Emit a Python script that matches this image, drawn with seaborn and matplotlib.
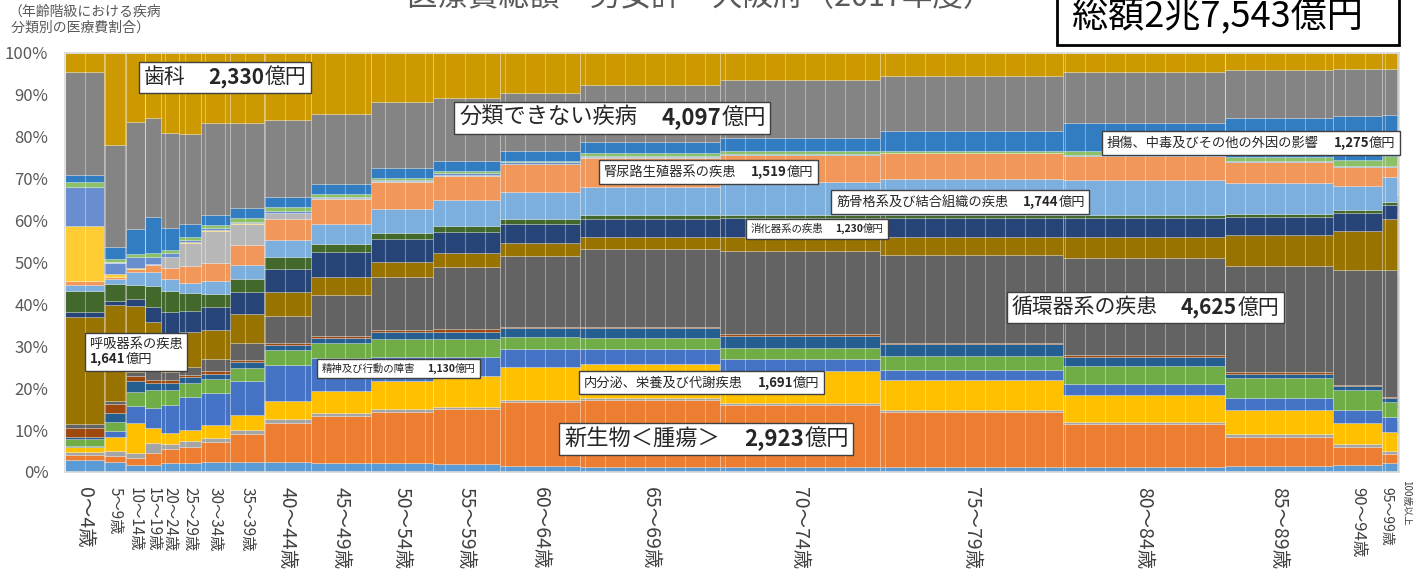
import numpy as np
import pandas as pd
import seaborn as sns
import matplotlib.pyplot as plt
from matplotlib.patches import Rectangle
from matplotlib.ticker import MultipleLocator, FuncFormatter
from matplotlib.transforms import ScaledTranslation
from matplotlib.offsetbox import TextArea, HPacker, VPacker, AnnotationBbox

# age groups and their total medical cost (億円) -> bar widths
age_groups = ["0〜4歳", "5〜9歳", "10〜14歳", "15〜19歳", "20〜24歳", "25〜29歳",
              "30〜34歳", "35〜39歳", "40〜44歳", "45〜49歳", "50〜54歳",
              "55〜59歳", "60〜64歳", "65〜69歳", "70〜74歳", "75〜79歳",
              "80〜84歳", "85〜89歳", "90〜94歳", "95〜99歳", "100歳以上"]
age_cost = [805, 454, 392, 330, 372, 454, 599, 702, 971, 1239, 1280, 1384,
            1652, 2891, 3304, 3779, 3345, 2230, 1012, 310, 41]

# share (%) of each disease class within an age group, bottom to top
kansen = [2.9, 2.5, 1.7, 1.7, 2.2, 2.1, 2.5, 2.3, 2.3, 2.1, 2.1, 1.8, 1.5, 1.3, 1.3, 1.3, 1.3, 1.4, 1.7, 2.1, 2.5]
shinsei = [1.2, 1.4, 1.6, 2.9, 3.4, 3.8, 4.7, 6.8, 9.4, 11.3, 12.3, 13.2, 15.3, 16.0, 14.8, 13.1, 10.1, 7.0, 4.3, 2.1, 1.5]
ketsueki = [0.6, 1.0, 1.3, 2.4, 1.2, 1.5, 0.8, 1.0, 0.9, 0.6, 0.6, 0.6, 0.5, 0.4, 0.4, 0.4, 0.5, 0.6, 0.8, 0.7, 0.8]
naibunpi = [1.2, 3.4, 7.0, 3.4, 2.4, 2.6, 3.2, 3.6, 4.4, 5.4, 6.6, 7.2, 7.7, 8.0, 7.6, 7.2, 6.5, 5.8, 4.8, 4.7, 4.5]
seishin = [0.3, 1.6, 4.2, 4.8, 6.8, 7.8, 7.6, 7.9, 8.6, 7.9, 5.9, 4.7, 4.4, 3.7, 2.8, 2.3, 2.5, 2.8, 3.2, 3.6, 3.0]
shinkei = [1.6, 2.0, 3.2, 4.4, 3.6, 3.5, 3.3, 3.2, 3.6, 3.4, 4.2, 4.2, 2.9, 2.7, 2.6, 3.5, 4.5, 4.8, 4.8, 3.6, 3.0]
me = [0.6, 2.3, 2.7, 1.7, 1.7, 1.3, 1.4, 1.4, 1.2, 1.4, 1.8, 1.8, 2.0, 2.2, 3.0, 2.7, 2.1, 1.1, 0.9, 0.8, 0.6]
mimi = [2.2, 2.0, 1.1, 0.7, 0.7, 0.6, 0.6, 0.5, 0.4, 0.4, 0.4, 0.6, 0.4, 0.4, 0.4, 0.4, 0.4, 0.4, 0.3, 0.4, 0.3]
junkan = [0.8, 0.7, 1.1, 2.7, 1.9, 1.9, 2.8, 4.2, 6.5, 9.7, 12.6, 14.9, 16.9, 18.5, 19.8, 21.0, 23.1, 25.3, 27.4, 30.2, 31.0]
kokyu = [25.7, 23.0, 15.6, 11.0, 9.2, 8.2, 7.1, 6.9, 5.7, 4.4, 3.5, 3.2, 3.0, 3.0, 3.5, 4.3, 5.2, 7.4, 9.2, 12.3, 14.5]
shoka = [1.2, 0.8, 1.7, 3.6, 5.2, 5.2, 5.3, 5.2, 5.5, 5.8, 5.5, 5.0, 4.7, 4.3, 4.5, 4.5, 4.5, 4.3, 4.3, 3.2, 3.5]
hifu = [5.0, 4.2, 3.4, 5.2, 5.0, 4.3, 3.3, 3.1, 2.7, 2.0, 1.6, 1.4, 1.1, 0.8, 0.6, 0.6, 0.6, 0.7, 0.8, 0.8, 0.8]
kinkokkaku = [1.3, 1.1, 3.2, 3.3, 2.7, 2.4, 3.1, 3.4, 4.2, 4.8, 5.7, 6.3, 6.5, 6.8, 7.8, 8.6, 8.4, 7.3, 5.8, 6.0, 5.5]
jinnyoro = [1.0, 0.6, 0.6, 1.6, 2.8, 4.0, 4.3, 4.6, 5.1, 6.0, 6.3, 5.8, 6.5, 6.9, 6.6, 6.2, 5.8, 5.2, 4.6, 2.4, 2.5]
ninshin = [0.0, 0.0, 0.1, 0.2, 2.6, 5.5, 7.4, 5.1, 1.3, 0.3, 0.4, 0.3, 0.2, 0.1, 0.0, 0.0, 0.0, 0.0, 0.0, 0.0, 0.0]
shusanki = [13.2, 0.6, 0.3, 0.0, 0.0, 0.1, 0.4, 0.2, 0.1, 0.0, 0.0, 0.0, 0.0, 0.0, 0.0, 0.0, 0.0, 0.0, 0.0, 0.0, 0.0]
senten = [9.3, 2.8, 2.6, 1.8, 0.8, 0.6, 0.4, 0.2, 0.3, 0.2, 0.2, 0.3, 0.3, 0.2, 0.2, 0.1, 0.1, 0.1, 0.1, 0.1, 0.1]
shojo = [1.0, 0.8, 0.6, 0.8, 0.9, 0.8, 0.7, 1.0, 1.0, 0.6, 0.5, 0.5, 0.3, 0.8, 0.6, 0.4, 0.9, 0.9, 1.5, 2.4, 3.0]
sonsho = [1.9, 3.0, 5.9, 8.6, 5.1, 3.1, 2.4, 2.4, 2.4, 2.4, 2.4, 2.4, 2.4, 2.7, 3.3, 4.8, 6.7, 9.3, 10.5, 9.8, 10.0]
bunrui = [24.4, 24.3, 25.6, 23.8, 22.7, 21.4, 22.0, 20.3, 18.3, 16.7, 15.6, 15.0, 13.9, 13.6, 13.8, 13.1, 12.2, 11.5, 11.1, 10.9, 9.0]
shika = [4.6, 21.9, 16.5, 15.4, 19.1, 19.3, 16.7, 16.7, 16.1, 14.6, 11.8, 10.8, 9.5, 7.6, 6.4, 5.5, 4.6, 4.1, 3.9, 3.9, 3.9]

categories = ["感染症及び寄生虫症", "新生物＜腫瘍＞", "血液及び造血器の疾患",
              "内分泌、栄養及び代謝疾患", "精神及び行動の障害", "神経系の疾患",
              "眼及び付属器の疾患", "耳及び乳様突起の疾患", "循環器系の疾患",
              "呼吸器系の疾患", "消化器系の疾患", "皮膚及び皮下組織の疾患",
              "筋骨格系及び結合組織の疾患", "腎尿路生殖器系の疾患",
              "妊娠、分娩及び産じょく", "周産期に発生した病態",
              "先天奇形、変形及び染色体異常", "症状、徴候及び異常臨床所見",
              "損傷、中毒及びその他の外因の影響", "分類できない疾病", "歯科"]
shares = [kansen, shinsei, ketsueki, naibunpi, seishin, shinkei, me, mimi,
          junkan, kokyu, shoka, hifu, kinkokkaku, jinnyoro, ninshin, shusanki,
          senten, shojo, sonsho, bunrui, shika]

# labelled classes and their yearly totals
label_names = ["歯科", "分類できない疾病", "腎尿路生殖器系の疾患",
               "筋骨格系及び結合組織の疾患", "消化器系の疾患",
               "損傷、中毒及びその他の外因の影響", "循環器系の疾患",
               "呼吸器系の疾患", "精神及び行動の障害",
               "内分泌、栄養及び代謝疾患", "新生物＜腫瘍＞"]
label_amounts = ["2,330億円", "4,097億円", "1,519億円", "1,744億円",
                 "1,230億円", "1,275億円", "4,625億円", "1,641億円",
                 "1,130億円", "1,691億円", "2,923億円"]
total_text = "総額2兆7,543億円"

colors = ["#5B9BD5", "#ED7D31", "#A5A5A5", "#FFC000", "#4472C4", "#70AD47",
          "#255E91", "#9E480E", "#636363", "#997300", "#264478", "#43682B",
          "#7CAFDD", "#F1975A", "#B7B7B7", "#FFCD33", "#698ED0", "#8CC168",
          "#327DC2", "#848484", "#CC9A00"]

# label box placement (axes fraction, top-left), font size
label_pos = [(0.0592, 0.968), (0.2954, 0.873), (0.4040, 0.733), (0.5780, 0.661),
             (0.5142, 0.593), (0.7811, 0.802), (0.7099, 0.419), (0.0187, 0.320),
             (0.1927, 0.259), (0.3891, 0.230), (0.3741, 0.107)]
label_size = [15, 16, 9.5, 9.5, 7.5, 9.5, 15, 9.5, 7.5, 9.5, 16]
tick_sizes = [14, 11, 11, 11, 11, 11, 11, 11, 14, 14, 14, 14, 14, 14, 14, 14,
              14, 14, 12, 10, 7]


def add_tag(ax, name, amount, xy, size, stacked=False):
    props = dict(fontsize=size, color="#262626")
    name_area = TextArea(name, textprops=props)
    num_area = TextArea(amount[:-2], textprops=dict(props, fontweight="bold"))
    unit_area = TextArea(amount[-2:], textprops=props)
    value = HPacker(children=[num_area, unit_area], align="baseline",
                    pad=0, sep=0)
    if stacked:
        box = VPacker(children=[name_area, value], align="left", pad=0, sep=1)
    else:
        box = HPacker(children=[name_area, value], align="baseline",
                      pad=0, sep=size * 1.1)
    ab = AnnotationBbox(box, xy, xycoords="axes fraction",
                        box_alignment=(0, 1), frameon=True, pad=0.2,
                        bboxprops=dict(boxstyle="square", facecolor="white",
                                       edgecolor="#404040", linewidth=1))
    ax.add_artist(ab)


sns.set_theme(style="white")
plt.rcParams["font.family"] = ["Noto Sans CJK JP", "DejaVu Sans"]

df = pd.DataFrame(shares, index=categories, columns=age_groups)
df = df / df.sum(axis=0) * 100

W, H = 1427, 581
fig = plt.figure(figsize=(W / 100, H / 100), dpi=100)
ax = fig.add_axes([65 / W, 1 - 472 / H, 1334 / W, 419 / H])

widths = np.array(age_cost, dtype=float)
left = np.concatenate([[0], np.cumsum(widths)[:-1]])
bottom = np.zeros(len(age_groups))
for cat, color in zip(categories, colors):
    vals = df.loc[cat].values
    ax.bar(left, vals, width=widths, bottom=bottom, align="edge",
           color=color, edgecolor=(1, 1, 1, 0.25), linewidth=0.6)
    bottom += vals

ax.set_xlim(0, widths.sum())
ax.set_ylim(0, 100)
ax.set_yticks(range(0, 101, 10))
ax.yaxis.set_major_formatter(FuncFormatter(lambda v, p: f"{int(v)}%"))
ax.set_xticks(left + widths / 2)
ax.set_xticklabels(age_groups, rotation=-90, ha="center", va="top")
for lab, size in zip(ax.get_xticklabels(), tick_sizes):
    lab.set_fontsize(size)
ax.tick_params(axis="x", length=0, pad=11, colors="#404040")
ax.tick_params(axis="y", length=0, pad=12, labelsize=12, colors="#595959")

# the two narrowest groups: nudge their labels apart
xlabs = ax.get_xticklabels()
xlabs[-2].set_transform(xlabs[-2].get_transform()
                        + ScaledTranslation(-2 / 72, 0, fig.dpi_scale_trans))
xlabs[-1].set_transform(xlabs[-1].get_transform()
                        + ScaledTranslation(6 / 72, 5 / 72, fig.dpi_scale_trans))

ax.xaxis.set_minor_locator(MultipleLocator(413))
ax.tick_params(which="minor", length=0)
ax.set_axisbelow(False)
ax.grid(which="minor", axis="x", color="white", alpha=0.35, linewidth=0.8)
for sp in ax.spines.values():
    sp.set_color("#D9D9D9")

for i, (name, amount) in enumerate(zip(label_names, label_amounts)):
    add_tag(ax, name, amount, label_pos[i], label_size[i],
            stacked=(name == "呼吸器系の疾患"))

fig.text(0.4905, 1 + 2 / H, "医療費総額　男女計　大阪府（2017年度）",
         ha="center", va="center", fontsize=22, color="#595959")
fig.text(8 / W, 1 - 5 / H, "（年齢階級における疾病\n 分類別の医療費割合）",
         ha="left", va="top", fontsize=10, color="#595959", linespacing=1.1)

fig.add_artist(Rectangle((1057 / W, 1 - 45 / H), 342 / W, 0.2,
                         transform=fig.transFigure, facecolor="white",
                         edgecolor="black", linewidth=2))
fig.text(1217 / W, 1 - 17 / H, total_text, ha="center", va="center",
         fontsize=26, color="black")

fig.savefig("out.png", dpi=100)
